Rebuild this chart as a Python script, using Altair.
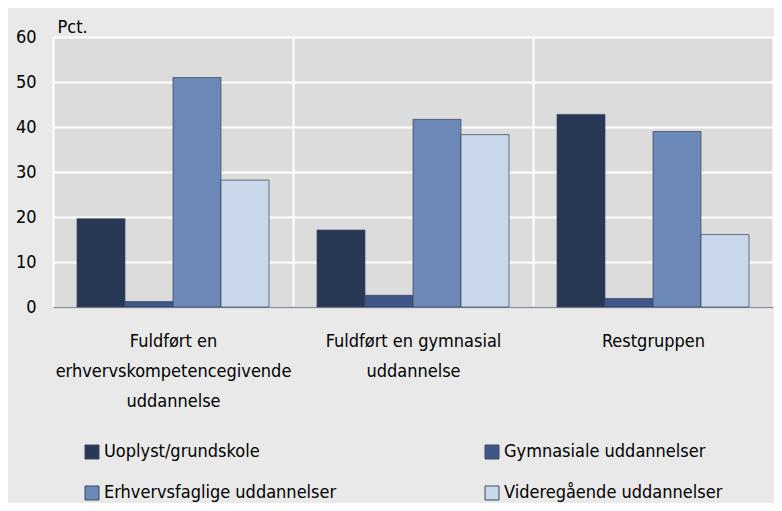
import altair as alt
import pandas as pd

groups = [
    "Fuldført en erhvervskompetencegivende uddannelse",
    "Fuldført en gymnasial uddannelse",
    "Restgruppen",
]
group_lines = [
    ["Fuldført en", "erhvervskompetencegivende", "uddannelse"],
    ["Fuldført en gymnasial", "uddannelse"],
    ["Restgruppen"],
]
series = [
    "Uoplyst/grundskole",
    "Gymnasiale uddannelser",
    "Erhvervsfaglige uddannelser",
    "Videregående uddannelser",
]
colors = ["#283754", "#3e5788", "#6b88b7", "#c8d7ea"]
values = {
    "Uoplyst/grundskole": [19.6, 17.1, 42.8],
    "Gymnasiale uddannelser": [1.2, 2.6, 1.9],
    "Erhvervsfaglige uddannelser": [51.0, 41.7, 39.0],
    "Videregående uddannelser": [28.2, 38.3, 16.1],
}

rows = []
for s in series:
    for g, v in zip(groups, values[s]):
        rows.append({"gruppe": g, "serie": s, "pct": v})
df = pd.DataFrame(rows)

label_expr = ""
for g, lines in zip(groups, group_lines):
    arr = "[" + ",".join("'" + l + "'" for l in lines) + "]"
    label_expr += f"datum.value == '{g}' ? {arr} : "
label_expr += "datum.label"

FONT = "DejaVu Sans Condensed, sans-serif"
FS = 18

chart = alt.Chart(df).mark_bar(
    stroke="#3b4863", strokeOpacity=0.75, strokeWidth=1
).encode(
    x=alt.X(
        "gruppe:N",
        sort=groups,
        scale=alt.Scale(paddingInner=0, paddingOuter=0),
        axis=alt.Axis(
            title=None,
            labelAngle=0,
            labelExpr=label_expr,
            labelFont=FONT,
            labelFontSize=FS,
            labelColor="#000000",
            labelLineHeight=30,
            labelPadding=25,
            labelLimit=400,
            ticks=False,
            tickBand="extent",
            grid=True,
            gridColor="#ffffff",
            gridWidth=2,
            domain=True,
            domainColor="#8a909c",
            domainWidth=1.5,
        ),
    ),
    xOffset=alt.XOffset(
        "serie:N",
        sort=series,
        scale=alt.Scale(paddingInner=0, paddingOuter=0.5),
    ),
    y=alt.Y(
        "pct:Q",
        scale=alt.Scale(domain=[0, 60]),
        axis=alt.Axis(
            values=[0, 10, 20, 30, 40, 50, 60],
            title="Pct.",
            titleAngle=0,
            titleAlign="left",
            titleBaseline="alphabetic",
            titleX=4,
            titleY=-5,
            titleFont=FONT,
            titleFontSize=FS,
            titleFontWeight="normal",
            titleColor="#000000",
            labelFont=FONT,
            labelFontSize=FS,
            labelColor="#000000",
            labelPadding=17,
            ticks=False,
            domain=False,
            grid=True,
            gridColor="#ffffff",
            gridWidth=2,
        ),
    ),
    color=alt.Color(
        "serie:N",
        sort=series,
        scale=alt.Scale(domain=series, range=colors),
        legend=alt.Legend(
            title=None,
            orient="none",
            legendX=30,
            legendY=406,
            direction="horizontal",
            columns=2,
            columnPadding=146,
            rowPadding=23,
            symbolType="square",
            symbolSize=196,
            symbolStrokeColor="#3b4863",
            symbolStrokeWidth=1,
            symbolOpacity=1,
            labelOffset=3,
            labelFont=FONT,
            labelFontSize=FS,
            labelColor="#000000",
            labelLimit=400,
        ),
    ),
).properties(
    width=720,
    height=270,
    background="#e9e9e9",
    padding={"left": 45, "top": 29, "right": 1, "bottom": 196},
    autosize=alt.AutoSizeParams(type="none"),
).configure_view(
    fill="#dcdcdc", stroke=None
)

chart.save("out.html", embed_options={"renderer": "svg", "actions": False})
